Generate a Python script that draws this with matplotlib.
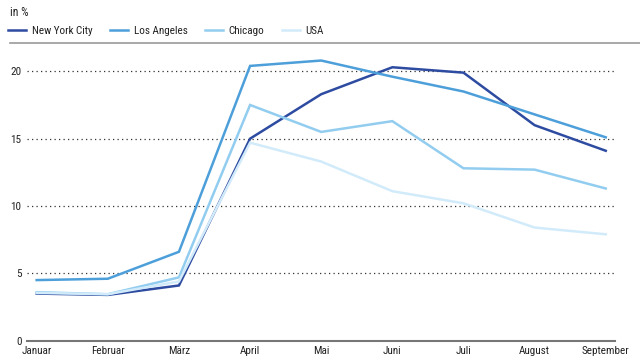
import matplotlib
matplotlib.use("Agg")
import matplotlib.pyplot as plt
from matplotlib.lines import Line2D
from matplotlib import font_manager

months = ["Januar", "Februar", "März", "April", "Mai", "Juni", "Juli", "August", "September"]
nyc = [3.5, 3.4, 4.1, 15.0, 18.3, 20.3, 19.9, 16.0, 14.1]
la = [4.5, 4.6, 6.6, 20.4, 20.8, 19.6, 18.5, 16.8, 15.1]
chicago = [3.6, 3.45, 4.7, 17.5, 15.5, 16.3, 12.8, 12.7, 11.3]
usa = [3.55, 3.45, 4.4, 14.7, 13.3, 11.1, 10.2, 8.4, 7.9]
series_names = ["New York City", "Los Angeles", "Chicago", "USA"]
colors = ["#2d4ba0", "#4d9fda", "#92cdf0", "#d2ebfa"]
yticks = [0, 5, 10, 15, 20]

avail = sorted({f.name for f in font_manager.fontManager.ttflist})
cands = ["Liberation Sans Narrow", "DejaVu Sans Condensed", "Roboto Condensed",
         "Open Sans Condensed", "Noto Sans Condensed", "Arial Narrow", "Roboto", "Lato"]
fam = next((c for c in cands if c in avail), "DejaVu Sans")
plt.rcParams["font.family"] = [fam, "DejaVu Sans"]
plt.rcParams["font.stretch"] = "condensed"

fig = plt.figure(figsize=(6.4, 3.6), dpi=100)
ax = fig.add_axes([27/640, 19.3/360, (615-27)/640, 289.6/360])

x = list(range(len(months)))
handles = []
for vals, name, c in zip([nyc, la, chicago, usa], series_names, colors):
    h, = ax.plot(x, vals, color=c, lw=1.8, solid_joinstyle="miter", label=name)
    handles.append(h)

ax.set_xlim(-0.136, 8.13)
ax.set_ylim(0, 21.5)
ax.set_yticks(yticks)
ax.set_yticklabels([str(v) for v in yticks], fontsize=8, color="#222222")
ax.set_xticks(x)
ax.set_xticklabels(months, fontsize=8, color="#222222")
ax.tick_params(axis="both", length=0, pad=2)
ax.tick_params(axis="y", pad=4)
ax.tick_params(axis="x", pad=4)
for s in ["top", "right", "left"]:
    ax.spines[s].set_visible(False)
ax.spines["bottom"].set_color("#777777")
ax.spines["bottom"].set_linewidth(1.5)
for v in yticks[1:]:
    ax.axhline(v, color="#333333", lw=0.9, ls=(0, (1, 2.6)), zorder=0)

fig.text(10/640, 1 - 12/360, "in %", fontsize=8.5, va="center", ha="left", color="#222222")
leg = fig.legend(handles=handles, loc="center left", bbox_to_anchor=(4/640, 1 - 31/360),
                 ncol=4, frameon=False, fontsize=8, handlelength=1.6, handletextpad=0.5,
                 columnspacing=1.6, borderaxespad=0)
for t in leg.get_texts():
    t.set_color("#222222")
fig.add_artist(Line2D([10/640, 1.0], [1 - 43/360, 1 - 43/360], color="#999999", lw=1.2,
                      transform=fig.transFigure))

fig.savefig("out.png", dpi=100)
